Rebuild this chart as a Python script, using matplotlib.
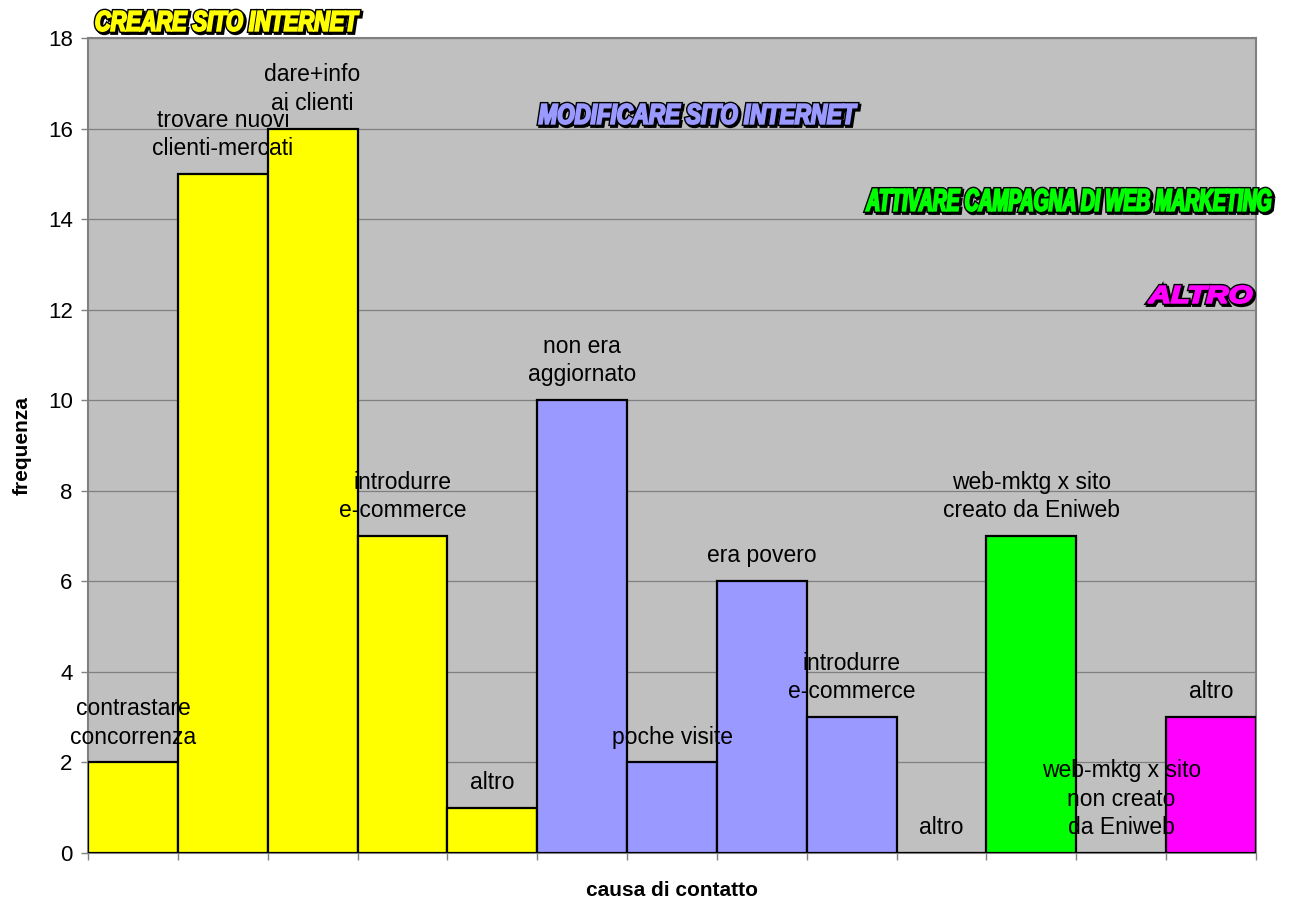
import numpy as np
import matplotlib
matplotlib.use("Agg")
import matplotlib.pyplot as plt
from matplotlib.textpath import TextPath
from matplotlib.patches import PathPatch
from matplotlib.font_manager import FontProperties
from matplotlib.transforms import Affine2D
import matplotlib.patheffects as pe

# ---- data -------------------------------------------------------------
causes = [
    "contrastare\nconcorrenza",
    "trovare nuovi\nclienti-mercati",
    "dare+info\nai clienti",
    "introdurre\ne-commerce",
    "altro",
    "non era\naggiornato",
    "poche visite",
    "era povero",
    "introdurre\ne-commerce",
    "altro",
    "web-mktg x sito\ncreato da Eniweb",
    "web-mktg x sito\nnon creato\nda Eniweb",
    "altro",
]
frequency = [2, 15, 16, 7, 1, 10, 2, 6, 3, 0, 7, 0, 3]
group_of_cause = [0, 0, 0, 0, 0, 1, 1, 1, 1, 1, 2, 2, 3]

groups = [
    "CREARE SITO INTERNET",
    "MODIFICARE SITO INTERNET",
    "ATTIVARE CAMPAGNA DI WEB MARKETING",
    "ALTRO",
]
group_colors = ["#FFFF00", "#9999FF", "#00FF00", "#FF00FF"]

y_ticks = [0, 2, 4, 6, 8, 10, 12, 14, 16, 18]

# ---- figure -----------------------------------------------------------
W, H = 1293, 905
fig = plt.figure(figsize=(W / 100, H / 100), dpi=100)
ax = fig.add_axes([88 / W, 1 - 853 / H, (1256 - 88) / W, (853 - 38) / H])
ax.set_facecolor("#C0C0C0")

label_font = "Liberation Sans"

x = np.arange(len(frequency))
bar_colors = [group_colors[g] for g in group_of_cause]
ax.bar(x, frequency, width=1.0, align="edge", color=bar_colors,
       edgecolor="black", linewidth=1.6, zorder=3)

for xi, val, txt in zip(x, frequency, causes):
    ax.annotate(txt, xy=(xi + 0.5, val), xytext=(0, 10),
                textcoords="offset points", ha="center", va="bottom",
                fontsize=16.5, family=label_font, linespacing=1.3,
                color="black", zorder=5, annotation_clip=False)

ax.set_xlim(0, len(frequency))
ax.set_ylim(0, 18)
ax.set_yticks(y_ticks)
ax.set_xticks(np.arange(len(frequency) + 1))
ax.set_xticklabels([])
ax.yaxis.grid(True, color="#808080", linewidth=0.9, zorder=1)
ax.set_axisbelow(True)
for sp in ax.spines.values():
    sp.set_color("#808080")
    sp.set_linewidth(1.5)
ax.tick_params(axis="both", direction="out", length=5, width=1,
               color="#808080", labelsize=16, pad=6)
for lab in ax.get_yticklabels():
    lab.set_family(label_font)

ax.set_ylabel("frequenza", fontsize=15, fontweight="bold",
              family=label_font)
ax.set_xlabel("causa di contatto", fontsize=15, fontweight="bold",
              family=label_font)
ax.yaxis.set_label_coords(-66 / (1256 - 88), 0.5)
ax.xaxis.set_label_coords(0.5, -37 / (853 - 38))
ax.xaxis.label.set_va("center")
ax.yaxis.label.set_va("center")


# ---- outlined headings for each group --------------------------------
def heading(text, color, box):
    """Draw a heavy outlined italic heading filling the pixel box (x0, y0, x1, y1)."""
    x0, y0, x1, y1 = box
    fp = FontProperties(family=label_font, weight="bold", style="italic")
    path = TextPath((0, 0), text, size=1, prop=fp)
    ext = path.get_extents()
    sx = (x1 - x0) / W / ext.width
    sy = (y1 - y0) / H / ext.height
    tr = (Affine2D().translate(-ext.x0, -ext.y0).scale(sx, sy)
          .translate(x0 / W, 1 - y1 / H)) + fig.transFigure
    patch = PathPatch(path, facecolor=color, edgecolor=color,
                      linewidth=1.4, transform=tr, zorder=10)
    patch.set_path_effects([
        pe.Stroke(linewidth=3.4, foreground="black", offset=(1.3, -1.3)),
        pe.Stroke(linewidth=3.4, foreground="black"),
        pe.Normal(),
    ])
    fig.add_artist(patch)


heading_boxes = [
    (96, 11, 359, 31),
    (539, 104, 857, 124),
    (866, 189, 1271, 211),
    (1148, 286, 1252, 303),
]
for name, col, box in zip(groups, group_colors, heading_boxes):
    heading(name, col, box)

fig.savefig("out.png", dpi=100)
